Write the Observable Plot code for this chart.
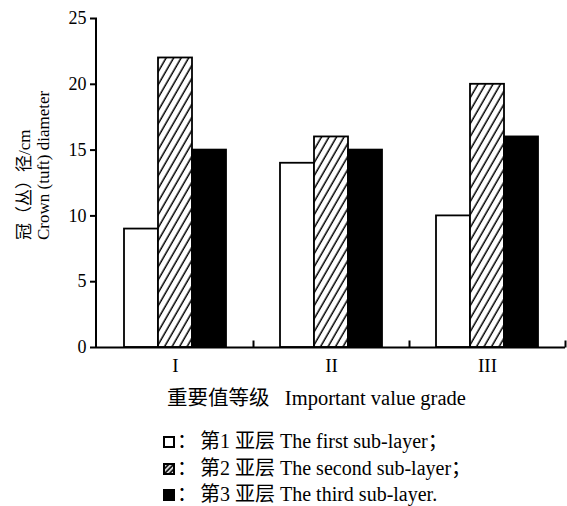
<!DOCTYPE html>
<html><head><meta charset="utf-8">
<script src="https://cdn.jsdelivr.net/npm/d3@7"></script>
<script src="https://cdn.jsdelivr.net/npm/@observablehq/plot@0.6"></script>
<style>
body{margin:0;background:#fff;font-family:"Liberation Serif","Noto Sans CJK SC",serif;color:#000;}
#chart{width:567px;height:385px;}
.xtitle{font-size:20.5px;line-height:26px;height:26px;padding-left:167px;white-space:pre;}
.legend{margin-top:17px;padding-left:163px;font-size:20px;}
.legend .row{height:26.5px;line-height:26.5px;display:flex;align-items:center;white-space:pre;}
.legend .sym{display:inline-block;width:14px;}
.legend .colon{display:inline-block;width:23px;}
</style></head><body>
<div id="chart"></div>
<div class="xtitle" id="xtitle"></div>
<div class="legend" id="legend"></div>
<script>
const grades = ["I", "II", "III"];
const layers = ["1", "2", "3"];
const layer1 = [9, 14, 10];
const layer2 = [22, 16, 20];
const layer3 = [15, 15, 16];
const yTicks = [0, 5, 10, 15, 20, 25];
const yLabelZh = "冠（丛）径/cm";
const yLabelEn = "Crown (tuft) diameter";
const xTitle = "重要值等级   Important value grade";
const legendLabels = ["第1 亚层 The first sub-layer；", "第2 亚层 The second sub-layer；", "第3 亚层 The third sub-layer."];

const seriesValues = {"1": layer1, "2": layer2, "3": layer3};
const rows = [];
grades.forEach((g, i) => layers.forEach(l => rows.push({grade: g, layer: l, value: seriesValues[l][i]})));
const fills = {"1": "white", "2": "url(#hatch)", "3": "black"};
const tickSym = {draw(ctx) { ctx.moveTo(0, 0); ctx.lineTo(0, -7); }};

const plot = Plot.plot({
  width: 567, height: 385,
  marginLeft: 96, marginRight: 1, marginTop: 18, marginBottom: 38,
  style: {fontFamily: "'Liberation Serif','Noto Sans CJK SC',serif", fontSize: "18px", color: "black", background: "white"},
  fx: {domain: grades, paddingInner: 0, paddingOuter: 0},
  x: {domain: layers, paddingInner: 0, paddingOuter: 0.77, axis: null},
  y: {domain: [0, 25]},
  marks: [
    ...layers.map(l => Plot.barY(rows.filter(d => d.layer === l), {
      fx: "grade", x: "layer", y: "value", fill: fills[l], stroke: "black", strokeWidth: 1.8
    })),
    Plot.ruleY([0], {stroke: "black", strokeWidth: 2}),
    Plot.dot(grades, {fx: d => d, frameAnchor: "bottom-right", symbol: tickSym, fill: "none", stroke: "black", strokeWidth: 2}),
    Plot.axisY({ticks: yTicks, tickSize: 7, tickPadding: 4, fontSize: 18, label: null, strokeWidth: 2}),
    Plot.axisFx({anchor: "bottom", tickSize: 0, tickPadding: 11, fontSize: 19, label: null})
  ]
});

const svg = d3.select(plot);
const defs = svg.insert("defs", ":first-child");
const pat = defs.append("pattern").attr("id", "hatch").attr("patternUnits", "userSpaceOnUse")
  .attr("width", 6.5).attr("height", 6.5).attr("patternTransform", "rotate(30)");
pat.append("rect").attr("width", 6.5).attr("height", 6.5).attr("fill", "white");
pat.append("line").attr("x1", 3).attr("x2", 3).attr("y1", -1).attr("y2", 7.5).attr("stroke", "black").attr("stroke-width", 1.5);

const yr = plot.scale("y").range, fxr = plot.scale("fx").range;
svg.append("line").attr("x1", fxr[0]).attr("x2", fxr[0]).attr("y1", yr[0] + 1).attr("y2", yr[1])
  .attr("stroke", "black").attr("stroke-width", 2);
const lab = svg.append("g").attr("text-anchor", "start").style("font-size", "17px").attr("fill", "black");
lab.append("text").attr("transform", "translate(30,240) rotate(-90)").text(yLabelZh);
lab.append("text").attr("transform", "translate(49,240) rotate(-90)").text(yLabelEn);

document.getElementById("chart").appendChild(plot);
document.getElementById("xtitle").textContent = xTitle;

const legend = d3.select("#legend");
legendLabels.forEach((t, i) => {
  const row = legend.append("div").attr("class", "row");
  const s = row.append("span").attr("class", "sym").append("svg").attr("width", 12).attr("height", 12);
  if (i === 1) {
    const p = s.append("defs").append("pattern").attr("id", "lhatch").attr("patternUnits", "userSpaceOnUse")
      .attr("width", 3.5).attr("height", 3.5).attr("patternTransform", "rotate(45)");
    p.append("rect").attr("width", 3.5).attr("height", 3.5).attr("fill", "white");
    p.append("line").attr("x1", 1.5).attr("x2", 1.5).attr("y1", -1).attr("y2", 4.5).attr("stroke", "black").attr("stroke-width", 1.8);
  }
  s.append("rect").attr("x", 1).attr("y", 1).attr("width", 10).attr("height", 10)
    .attr("fill", ["white", "url(#lhatch)", "black"][i]).attr("stroke", "black").attr("stroke-width", 2);
  row.append("span").attr("class", "colon").text("：");
  row.append("span").text(t);
});
</script>
</body></html>
